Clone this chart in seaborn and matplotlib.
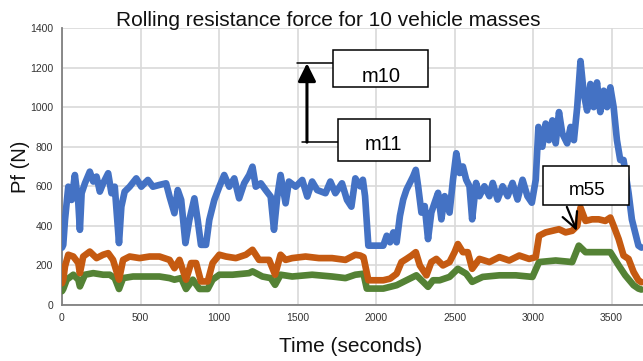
import numpy as np
import pandas as pd
import matplotlib
matplotlib.use("Agg")
import matplotlib.pyplot as plt
from matplotlib.patches import Rectangle
import seaborn as sns

# ---------------- data ----------------
t_blue = [0, 8, 19, 40, 61, 82, 104, 114, 125, 146, 177, 199, 220, 241, 262, 294, 315, 336,
          363, 378, 399, 431, 473, 505, 547, 579, 621, 663, 685, 716, 737, 759, 786, 811,
          843, 864, 885, 917, 938, 970, 1002, 1033, 1065, 1097, 1128, 1160, 1192, 1213,
          1234, 1266, 1297, 1329, 1350, 1371, 1392, 1424, 1445, 1488, 1530, 1562, 1593,
          1625, 1678, 1709, 1741, 1783, 1815, 1843, 1868, 1899, 1916, 1930, 1951, 1983,
          2046, 2068, 2089, 2110, 2131, 2152, 2173, 2194, 2215, 2236, 2253, 2268, 2289,
          2310, 2331, 2352, 2373, 2395, 2416, 2437, 2468, 2490, 2511, 2532, 2553, 2574,
          2595, 2612, 2637, 2658, 2690, 2722, 2743, 2774, 2806, 2838, 2869, 2901, 2933,
          2964, 2992, 3017, 3034, 3059, 3080, 3101, 3123, 3144, 3165, 3186, 3217, 3239,
          3260, 3281, 3302, 3323, 3344, 3365, 3386, 3407, 3428, 3450, 3471, 3492, 3513,
          3534, 3555, 3576, 3608, 3629, 3650, 3671, 3690]
v_blue = [290, 304, 430, 598, 531, 657, 514, 380, 565, 615, 674, 624, 649, 573, 615, 666, 565, 598,
          313, 497, 573, 598, 640, 598, 632, 598, 607, 615, 548, 464, 581, 531, 313, 430,
          539, 430, 304, 304, 430, 531, 598, 657, 598, 640, 539, 615, 657, 699,
          598, 615, 581, 548, 380, 548, 657, 514, 624, 598, 632, 548, 624,
          581, 565, 624, 565, 615, 531, 497, 640, 600, 633, 550, 300, 300,
          300, 350, 317, 367, 317, 450, 533, 583, 617, 650, 683, 600, 467,
          500, 333, 467, 517, 567, 433, 550, 467, 633, 767, 667, 700, 633,
          600, 433, 617, 550, 600, 550, 617, 533, 600, 550, 617, 533, 633,
          550, 517, 633, 900, 800, 917, 833, 933, 817, 975, 867, 817, 900,
          833, 1000, 1233, 1067, 983, 1117, 1000, 1125, 975, 1083, 1000, 1100, 1000,
          833, 733, 733, 567, 433, 367, 300, 290]

t_orange = [0, 8, 19, 40, 72, 104, 114, 135, 177, 220, 262, 294, 325, 363, 389, 431, 494, 558,
            621, 685, 716, 748, 790, 822, 854, 885, 928, 959, 1002, 1044, 1107, 1171, 1213,
            1255, 1319, 1357, 1392, 1424, 1466, 1551, 1636, 1720, 1805, 1868, 1899, 1920,
            1951, 2046, 2089, 2131, 2162, 2194, 2226, 2253, 2279, 2321, 2352, 2384, 2426,
            2468, 2500, 2521, 2553, 2584, 2612, 2658, 2722, 2785, 2848, 2912, 2975, 3017,
            3038, 3080, 3123, 3165, 3207, 3249, 3281, 3302, 3334, 3376, 3418, 3460, 3492,
            3513, 3545, 3576, 3608, 3640, 3671, 3690]
v_orange = [110, 128, 195, 254, 245, 212, 161, 245, 270, 237, 254, 262, 228, 128, 228, 245, 237, 245,
            245, 228, 186, 228, 128, 212, 212, 119, 119, 212, 254, 245, 237, 254, 279,
            228, 228, 153, 254, 228, 237, 245, 237, 237, 228, 254, 250, 242,
            125, 125, 133, 158, 217, 233, 250, 267, 200, 150, 217, 233, 200,
            217, 267, 308, 267, 267, 183, 233, 217, 242, 225, 250, 233, 242,
            350, 367, 375, 383, 367, 375, 400, 492, 425, 433, 433, 425, 442,
            400, 333, 250, 233, 167, 125, 115]

t_green = [0, 8, 30, 72, 104, 114, 146, 199, 262, 304, 336, 363, 389, 452, 537, 621, 685, 716,
           759, 790, 833, 875, 928, 959, 1002, 1086, 1192, 1213, 1276, 1329, 1357, 1392,
           1466, 1593, 1720, 1805, 1868, 1920, 1941, 2046, 2131, 2194, 2257, 2300, 2331,
           2363, 2405, 2468, 2521, 2574, 2612, 2679, 2785, 2890, 2996, 3038, 3144, 3249,
           3291, 3334, 3418, 3492, 3545, 3587, 3640, 3671, 3690]
v_green = [70, 81, 128, 153, 128, 94, 153, 161, 153, 153, 136, 81, 136, 144, 144, 144, 136, 128,
           136, 81, 128, 81, 81, 128, 153, 153, 161, 170, 144, 136, 102, 153,
           144, 153, 144, 136, 153, 158, 83, 83, 100, 125, 150, 117, 92,
           125, 125, 142, 183, 158, 117, 142, 150, 150, 142, 217, 225, 217,
           300, 267, 267, 267, 200, 150, 100, 83, 78]

series_names = ["blue", "orange", "green"]
series_colors = ["#4472C4", "#C55A11", "#548235"]

x_ticks = [0, 500, 1000, 1500, 2000, 2500, 3000, 3500]
y_ticks = [0, 200, 400, 600, 800, 1000, 1200, 1400]

# annotation boxes: (label, t_left, t_right, v_bottom, v_top, text_t, text_v, fontsize)
boxes = [("m10", 1726, 2331, 1101, 1288, 2035, 1126, 14.5),
         ("m11", 1758, 2344, 727, 939, 2045, 783, 14.5),
         ("m55", 3064, 3611, 505, 702, 3341, 556, 13.5)]

# ---------------- build table ----------------
df = pd.concat([
    pd.DataFrame({"t": t_blue, "v": v_blue, "series": "blue"}),
    pd.DataFrame({"t": t_orange, "v": v_orange, "series": "orange"}),
    pd.DataFrame({"t": t_green, "v": v_green, "series": "green"}),
], ignore_index=True)

sns.set_style("white")
plt.rcParams["font.family"] = ["Liberation Sans", "DejaVu Sans"]

fig = plt.figure(figsize=(6.43, 3.61), dpi=100)
ax = fig.add_axes([62 / 643, 56 / 361, 581 / 643, 277 / 361])

sns.lineplot(data=df, x="t", y="v", hue="series",
             hue_order=["green", "orange", "blue"],
             palette={"blue": series_colors[0], "orange": series_colors[1], "green": series_colors[2]},
             estimator=None, sort=False, lw=4.8, legend=False, ax=ax,
             solid_capstyle="round", solid_joinstyle="round", zorder=3)

ax.set_xlim(0, 3700)
ax.set_ylim(0, 1400)
ax.set_xticks(x_ticks)
ax.set_yticks(y_ticks)
ax.set_xticklabels([str(v) for v in x_ticks])
ax.set_yticklabels([str(v) for v in y_ticks])
ax.tick_params(axis="both", length=0, labelsize=7.5, colors="#333333")
ax.tick_params(axis="x", pad=6)
ax.tick_params(axis="y", pad=6.5)
ax.grid(True, color="#d9d9d9", lw=1.2, zorder=0)
ax.set_axisbelow(True)
for s in ["top", "right"]:
    ax.spines[s].set_visible(False)
for s in ["left", "bottom"]:
    ax.spines[s].set_color("#808080")
    ax.spines[s].set_linewidth(1.3)

ax.set_xlabel("")
ax.set_ylabel("Pf (N)", fontsize=14.5, color="#111111")
ax.yaxis.set_label_coords(-0.055, 0.5)
fig.text(351 / 643, 1 - 352 / 361, "Time (seconds)", ha="center", va="baseline",
         fontsize=15, color="#111111")
fig.text(328 / 643, 1 - 26 / 361, "Rolling resistance force for 10 vehicle masses",
         ha="center", va="baseline", fontsize=15, color="#111111")

# leader lines and arrow between m11 and m10
ax.plot([1497, 1726], [1222, 1222], color="black", lw=1.1, zorder=5)
ax.plot([1529, 1758], [823, 823], color="black", lw=1.1, zorder=5)
ax.annotate("", xy=(1560, 1222), xytext=(1560, 823),
            arrowprops=dict(arrowstyle="-|>,head_length=0.6,head_width=0.3",
                            mutation_scale=18, lw=2.2, color="black",
                            shrinkA=0, shrinkB=0), zorder=6)
# m55 arrow
ax.annotate("", xy=(3278, 375), xytext=(3215, 496),
            arrowprops=dict(arrowstyle="->,head_length=0.8,head_width=0.4",
                            mutation_scale=14, lw=1.6, color="black",
                            shrinkA=0, shrinkB=0), zorder=6)

for label, x0, x1, y0, y1, tx, ty, fs in boxes:
    ax.add_patch(Rectangle((x0, y0), x1 - x0, y1 - y0, facecolor="white",
                           edgecolor="black", lw=1.1, zorder=7))
    ax.text(tx, ty, label, ha="center", va="baseline", fontsize=fs, color="black", zorder=8)

fig.savefig("out.png", dpi=100)
